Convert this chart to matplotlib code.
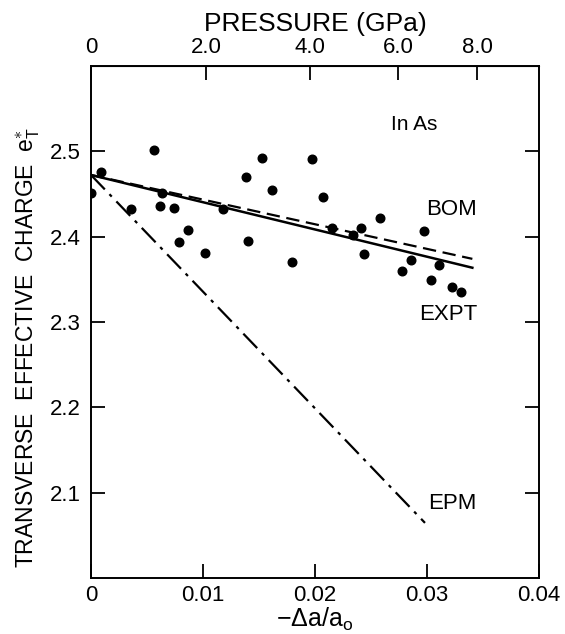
import matplotlib.pyplot as plt
import numpy as np

plt.rcParams['font.family'] = ['Liberation Sans', 'DejaVu Sans']
plt.rcParams['mathtext.fontset'] = 'custom'
plt.rcParams['mathtext.rm'] = 'Liberation Sans'
plt.rcParams['mathtext.it'] = 'Liberation Sans:italic'

# measured points (-da/a0, e_T*)
strain = [0.0, 0.00087, 0.00562, 0.00357, 0.00631, 0.00613, 0.00738, 0.00869,
          0.00786, 0.01018, 0.01176, 0.01384, 0.0140, 0.01524, 0.01619, 0.01792,
          0.0197, 0.0207, 0.02155, 0.02336, 0.02414, 0.02583, 0.0244, 0.0297,
          0.02854, 0.02774, 0.03107, 0.03033, 0.0322, 0.03306]
charge = [2.451, 2.476, 2.502, 2.433, 2.451, 2.4355, 2.434, 2.408,
          2.394, 2.381, 2.432, 2.470, 2.395, 2.492, 2.455, 2.370,
          2.491, 2.447, 2.410, 2.402, 2.410, 2.422, 2.380, 2.407,
          2.373, 2.360, 2.367, 2.349, 2.341, 2.335]

# fitted / calculated lines (start, end)
expt_x = [0.0, 0.03405]
expt_y = [2.4723, 2.3636]
bom_x = [0.0, 0.03405]
bom_y = [2.4723, 2.374]
epm_x = [0.0, 0.02982]
epm_y = [2.4723, 2.0646]

x_ticks = [0.01, 0.02, 0.03]
y_ticks = [2.1, 2.2, 2.3, 2.4, 2.5]
# pressure scale on top, placed at the equivalent strain
p_ticks_x = [0.0, 0.0103, 0.01955, 0.02741, 0.03446]
p_labels = ['0', '2.0', '4.0', '6.0', '8.0']

fig = plt.figure(figsize=(5.65, 6.34), dpi=100)
ax = fig.add_axes([0.161, 0.0883, 0.793, 0.8076])

ax.plot(strain, charge, 'o', color='black', ms=6.2)
ax.plot(expt_x, expt_y, '-', color='black', lw=1.8)
ax.plot(bom_x, bom_y, color='black', lw=1.6, dashes=(6, 3))
ax.plot(epm_x, epm_y, color='black', lw=1.6, dashes=(9, 3, 1.5, 3))

ax.set_xlim(0, 0.04)
ax.set_ylim(2.0, 2.6)

ax.set_xticks([0] + x_ticks + [0.04])
ax.set_xticklabels(['0', '0.01', '0.02', '0.03', '0.04'])
ax.set_yticks(y_ticks)
ax.set_yticklabels([str(v) for v in y_ticks])
ax.tick_params(direction='in', length=10, width=1.3, labelsize=16,
               right=True, pad=7)
ax.tick_params(axis='x', pad=5)
for s in ax.spines.values():
    s.set_linewidth(1.4)

top = ax.secondary_xaxis('top')
top.set_xticks(p_ticks_x)
top.set_xticklabels(p_labels)
top.tick_params(direction='in', length=10, width=1.3, labelsize=16, pad=6)
top.set_xlabel('PRESSURE (GPa)', fontsize=19, labelpad=4)

ax.set_xlabel(r'$-\Delta\mathrm{a}/\mathrm{a}_\mathrm{o}$', fontsize=18, labelpad=0)
ax.set_ylabel(r'TRANSVERSE  EFFECTIVE  CHARGE  $\mathrm{e}_\mathrm{T}^{\ast}$',
              fontsize=16.5)
ax.yaxis.set_label_coords(-0.11, 0.45)

ax.text(0.0289, 2.532, 'In As', fontsize=15, ha='center', va='center')
ax.text(0.0322, 2.432, 'BOM', fontsize=16, ha='center', va='center')
ax.text(0.0319, 2.309, 'EXPT', fontsize=16, ha='center', va='center')
ax.text(0.0323, 2.087, 'EPM', fontsize=16, ha='center', va='center')

fig.savefig('out.png', dpi=100)
